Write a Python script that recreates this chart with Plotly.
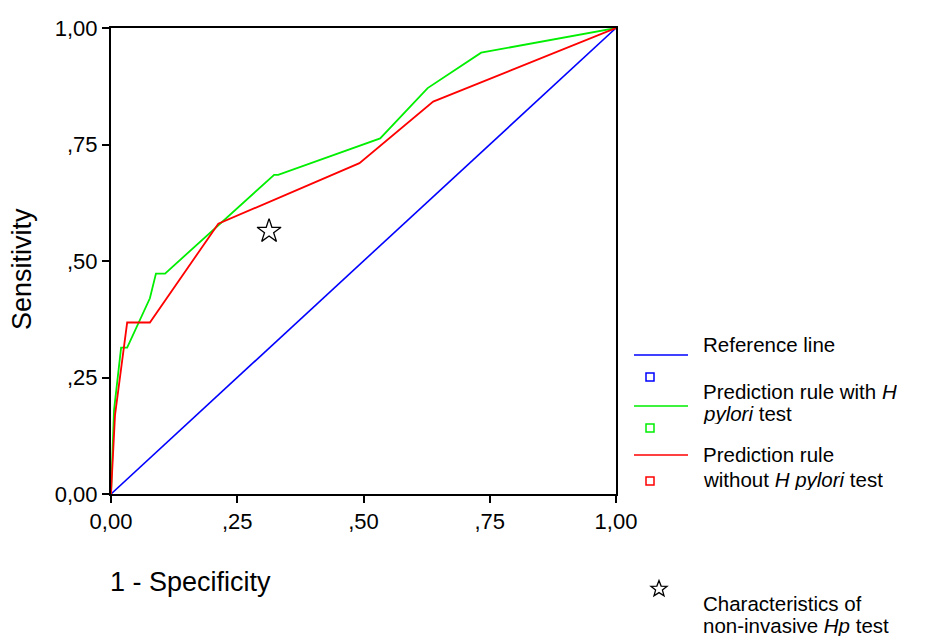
import plotly.graph_objects as go
import math

ref_x = [0.0, 1.0]
ref_y = [0.0, 1.0]

with_x = [0.0, 0.006, 0.020, 0.032, 0.077, 0.089, 0.107, 0.323, 0.331, 0.533, 0.627, 0.733, 1.0]
with_y = [0.0, 0.18, 0.314, 0.314, 0.420, 0.473, 0.473, 0.685, 0.685, 0.763, 0.871, 0.947, 1.0]

without_x = [0.0, 0.008, 0.032, 0.077, 0.2125, 0.492, 0.638, 1.0]
without_y = [0.0, 0.17, 0.368, 0.368, 0.580, 0.710, 0.842, 1.0]

hp_x = [0.313]
hp_y = [0.564]

tick_vals = [0, 0.25, 0.5, 0.75, 1.0]
tick_text = ["0,00", ",25", ",50", ",75", "1,00"]

FONT = "Liberation Sans, Arial, sans-serif"

fig = go.Figure()
fig.add_trace(go.Scatter(x=ref_x, y=ref_y, mode="lines", line=dict(color="#0000ff", width=1.6), showlegend=False, cliponaxis=False))
fig.add_trace(go.Scatter(x=with_x, y=with_y, mode="lines", line=dict(color="#00ee00", width=1.8), showlegend=False, cliponaxis=False))
fig.add_trace(go.Scatter(x=without_x, y=without_y, mode="lines", line=dict(color="#ff0000", width=1.8), showlegend=False, cliponaxis=False))
fig.add_trace(go.Scatter(x=hp_x, y=hp_y, mode="markers",
                         marker=dict(symbol="star-open", size=18, color="black", line=dict(width=1.3, color="black")),
                         showlegend=False))

axis_common = dict(range=[0, 1], tickvals=tick_vals, ticktext=tick_text, ticks="outside", ticklen=7,
                   tickwidth=1.5, tickcolor="black", showgrid=False, zeroline=False,
                   showline=True, linecolor="black", linewidth=2, mirror=True,
                   tickfont=dict(family=FONT, size=22, color="black"))

fig.update_layout(
    width=926, height=637,
    margin=dict(l=111, r=310, t=28, b=143),
    plot_bgcolor="white", paper_bgcolor="white",
    xaxis=dict(**axis_common),
    yaxis=dict(**axis_common),
    font=dict(family=FONT, size=21, color="black"),
)

def px_x(p):
    return (p - 111) / 505.0

def px_y(p):
    return (494 - p) / 466.0

shapes = []
annots = []
annots.append(dict(x=px_x(108), y=px_y(582), xref="paper", yref="paper", text="1 - Specificity",
                   showarrow=False, xanchor="left", yanchor="middle", font=dict(size=27)))
annots.append(dict(x=px_x(22), y=px_y(269), xref="paper", yref="paper", text="Sensitivity", textangle=-90,
                   showarrow=False, xanchor="center", yanchor="middle", font=dict(size=27)))

def legend_text(py, t):
    annots.append(dict(x=px_x(702), y=px_y(py), xref="paper", yref="paper", text=t, showarrow=False,
                       xanchor="left", yanchor="middle", height=22, borderpad=0, valign="middle",
                       font=dict(size=20.5)))

legend_items = [
    ("#0000ff", 355, 377, [(344, "Reference line")]),
    ("#00ee00", 406, 428, [(391, "Prediction rule with <i>H</i>"), (413, "<i>pylori</i> test")]),
    ("#ff0000", 455, 481, [(454, "Prediction rule"), (479, "without <i>H pylori</i> test")]),
]
for color, ly, sy, texts in legend_items:
    shapes.append(dict(type="line", xref="paper", yref="paper", x0=px_x(634), x1=px_x(688), y0=px_y(ly), y1=px_y(ly),
                       line=dict(color=color, width=1.5)))
    shapes.append(dict(type="rect", xref="paper", yref="paper", xsizemode="pixel", ysizemode="pixel",
                       xanchor=px_x(650), yanchor=px_y(sy), x0=-4, x1=4, y0=-4, y1=4,
                       line=dict(color=color, width=1.5), fillcolor="white"))
    for ty, t in texts:
        legend_text(ty, t)

pts = []
for k in range(10):
    r = 8.5 if k % 2 == 0 else 3.6
    a = math.pi / 2 + k * math.pi / 5
    pts.append((r * math.cos(a), r * math.sin(a)))
path = "M " + " L ".join(f"{x:.2f},{y:.2f}" for x, y in pts) + " Z"
shapes.append(dict(type="path", xref="paper", yref="paper", xsizemode="pixel", ysizemode="pixel",
                   xanchor=px_x(659), yanchor=px_y(589), path=path,
                   line=dict(color="black", width=1.3), fillcolor="white"))

legend_text(603, "Characteristics of")
legend_text(625, "non-invasive <i>Hp</i> test")

fig.update_layout(shapes=shapes, annotations=annots)
fig.write_html("out.html", config={"displayModeBar": False},
               post_script="document.body.style.margin='0';document.body.style.overflow='hidden';")
